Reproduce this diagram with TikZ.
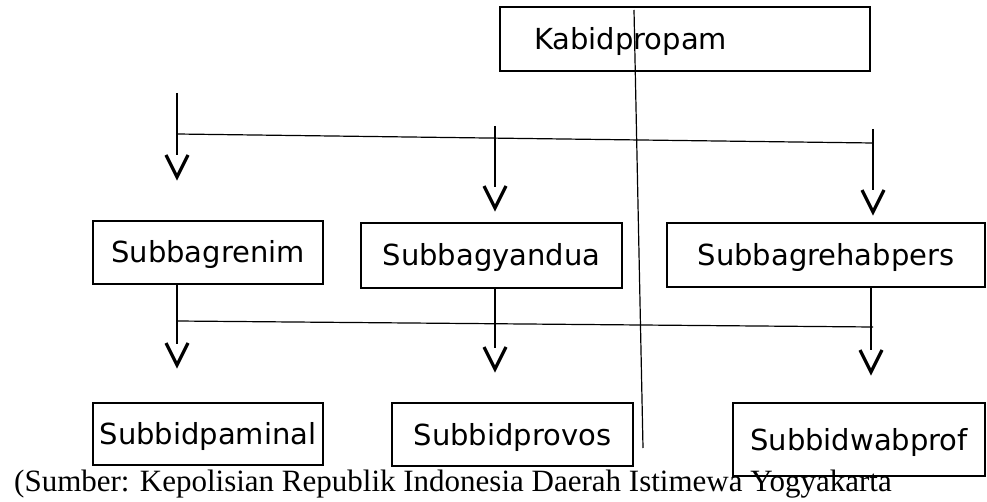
\documentclass[tikz,border=0pt]{standalone}
\usepackage{fontspec}
\setmainfont{Liberation Serif}
\newfontfamily\djv{DejaVu Sans}
\newcommand\vmark[2]{\draw[varrow] (#1-11,#2-22) -- (#1,#2) -- (#1+11,#2-22);}
\begin{document}
\begin{tikzpicture}[x=1pt,y=-1pt,
  box/.style={draw, line width=2pt, inner sep=0pt, font=\djv\fontsize{29}{34}\selectfont, text height=21pt, text depth=0pt},
  conn/.style={line width=1.2pt},
  varrow/.style={line width=3.2pt, line join=miter, line cap=butt}]
\useasboundingbox (0,0) rectangle (987,502);
% boxes
\node[box, minimum height=64pt, text width=302pt, align=left, inner xsep=34pt] (kab) at (685,39) {Kabidpropam};
\node[box, minimum width=230pt, minimum height=63pt] (renim) at (208,252.5) {Subbagrenim};
\node[box, minimum width=261pt, minimum height=65pt] (yandua) at (491.5,255.5) {Subbagyandua};
\node[box, minimum width=318pt, minimum height=64pt] (rehab) at (826,255) {Subbagrehabpers};
\node[box, minimum width=230pt, minimum height=62pt] (paminal) at (208,434) {Subbidpaminal};
\node[box, minimum width=241pt, minimum height=63pt] (provos) at (512.5,434.5) {Subbidprovos};
\node[box, minimum width=252pt, minimum height=73pt] (wabprof) at (859,439.5) {Subbidwabprof};
% caption
\node[anchor=base west, inner sep=0pt, font=\fontsize{31}{36}\selectfont] (cap) at (14,491) {(Sumber: Kepolisian Republik Indonesia Daerah Istimewa Yogyakarta};
% free ends
\coordinate (a1) at (177,93);
\coordinate (a1e) at (177,155);
\coordinate (h1a) at (177,134);
\coordinate (h1b) at (873,143);
\coordinate (a2) at (495,126);
\coordinate (a2e) at (495,187);
\coordinate (a3) at (873,129);
\coordinate (a3e) at (873,190);
\coordinate (b1e) at (177,344);
\coordinate (h2a) at (177,321);
\coordinate (h2b) at (873,327);
\coordinate (b2e) at (495,348);
\coordinate (b3e) at (871,350);
\coordinate (lt) at (634,10);
\coordinate (lb) at (643,448);
% top connectors
\draw[conn] (a1) -- (a1e);
\draw[conn] (h1a) -- (h1b);
\draw[conn] (a2) -- (a2e);
\draw[conn] (a3) -- (a3e);
\vmark{177}{177}
\vmark{495}{208}
\vmark{873}{212}
% second connectors
\draw[conn] (renim.south -| b1e) -- (b1e);
\draw[conn] (h2a) -- (h2b);
\draw[conn] (yandua.south -| b2e) -- (b2e);
\draw[conn] (rehab.south -| b3e) -- (b3e);
\vmark{177}{365}
\vmark{495}{369}
\vmark{871}{372}
% long line
\draw[conn] (lt) -- (lb);
\end{tikzpicture}
\end{document}
